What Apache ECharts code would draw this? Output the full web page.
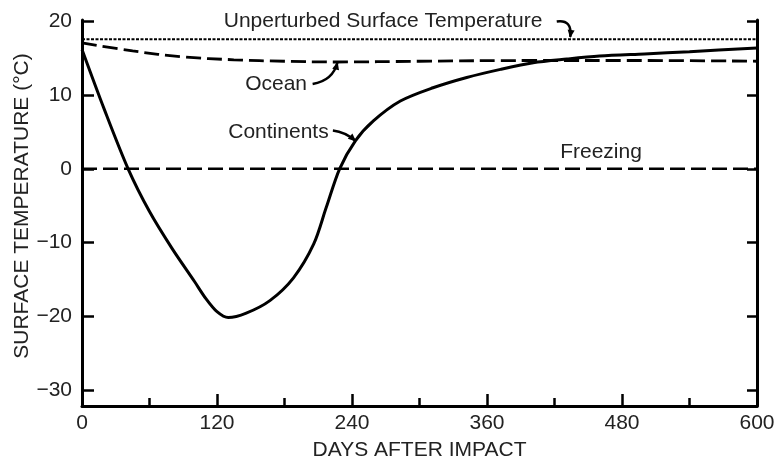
<!DOCTYPE html>
<html>
<head>
<meta charset="utf-8">
<script src="https://cdn.jsdelivr.net/npm/echarts@6/dist/echarts.min.js"></script>
<style>
html,body{margin:0;padding:0;background:#fff;}
#c{width:777px;height:460px;}
</style>
</head>
<body>
<div id="c"></div>
<script>
// ---- data ----
const continentDays  = [0, 20, 41, 60, 80, 100, 110, 120, 130, 146, 167, 188, 206, 217, 229, 243, 259, 283, 312, 342, 372, 401, 431, 460, 500, 540, 600];
const continentTemps = [16.2, 8.0, 0, -5.8, -10.8, -15.3, -17.6, -19.4, -20.2, -19.6, -17.9, -14.8, -10.2, -5.3, 0, 3.8, 6.5, 9.2, 11.0, 12.4, 13.5, 14.4, 14.9, 15.3, 15.6, 15.9, 16.4];
const oceanDays  = [0, 45, 90, 135, 180, 225, 300, 400, 500, 600];
const oceanTemps = [17.1, 16.0, 15.2, 14.8, 14.6, 14.5, 14.6, 14.7, 14.7, 14.6];
const unperturbedDays  = [0, 600];
const unperturbedTemps = [17.6, 17.6];
const freezingDays  = [0, 600];
const freezingTemps = [0, 0];
const xTicks = [0, 120, 240, 360, 480, 600];
const yTicks = [-30, -20, -10, 0, 10, 20];

const labelTexts = ['Unperturbed Surface Temperature', 'Ocean', 'Continents', 'Freezing'];
const labelAnchors = [[126, 20.1], [145, 11.5], [130, 5.0], [425, 2.2]];
// arrows: [start, control, end] in data coordinates
const arrowPaths = [
  [[422, 20.0], [436, 20.3], [434, 17.9]],
  [[205, 11.5], [223, 12.0], [227, 14.4]],
  [[223, 5.2], [234, 5.0], [243, 3.8]]
];

const zip = (xs, ys) => xs.map((x, i) => [x, ys[i]]);
const FONT = '"Liberation Sans", Arial, Helvetica, sans-serif';
const TXT = '#222';
const FS = 21;
const fmt = v => (v < 0 ? '\u2212' + Math.abs(v) : String(v));

const chart = echarts.init(document.getElementById('c'), null, {renderer: 'canvas'});
const option = {
  animation: false,
  backgroundColor: '#fff',
  grid: {left: 82, right: 20, top: 20, bottom: 54, containLabel: false, outerBoundsMode: 'none'},
  xAxis: {
    type: 'value', min: 0, max: 600, interval: 120,
    name: 'DAYS AFTER IMPACT', nameLocation: 'middle', nameGap: 34, nameMoveOverlap: false,
    nameTextStyle: {fontFamily: FONT, fontSize: FS, color: TXT},
    axisLine: {onZero: false, lineStyle: {color: '#000', width: 3}},
    axisTick: {inside: true, length: 12, lineStyle: {color: '#000', width: 2.5}},
    minorTick: {show: true, splitNumber: 2, length: 8, lineStyle: {color: '#000', width: 2.5}},
    axisLabel: {fontFamily: FONT, fontSize: FS, color: TXT, margin: 7, customValues: xTicks},
    splitLine: {show: false}, minorSplitLine: {show: false}
  },
  yAxis: [{
    type: 'value', min: -32.2, max: 20.2, position: 'left',
    name: 'SURFACE TEMPERATURE (\u00B0C)', nameLocation: 'middle', nameGap: 49, nameRotate: 90,
    nameMoveOverlap: false,
    nameTextStyle: {fontFamily: FONT, fontSize: FS, color: TXT, padding: [0, 0, 0, 14]},
    axisLine: {show: true, onZero: false, lineStyle: {color: '#000', width: 3}},
    axisTick: {show: true, inside: true, length: 12, lineStyle: {color: '#000', width: 2.5}, customValues: yTicks},
    axisLabel: {fontFamily: FONT, fontSize: FS, color: TXT, margin: 10, customValues: yTicks, formatter: fmt},
    splitLine: {show: false}
  }, {
    type: 'value', min: -32.2, max: 20.2, position: 'right',
    axisLine: {show: true, onZero: false, lineStyle: {color: '#000', width: 3}},
    axisTick: {show: true, inside: true, length: 10, lineStyle: {color: '#000', width: 2.5}, customValues: yTicks},
    axisLabel: {show: false},
    splitLine: {show: false}
  }],
  series: [
    {name: 'Unperturbed', type: 'line', data: zip(unperturbedDays, unperturbedTemps), showSymbol: false,
     lineStyle: {color: '#000', width: 2, type: [3, 1.5]}, silent: true},
    {name: 'Freezing', type: 'line', data: zip(freezingDays, freezingTemps), showSymbol: false,
     lineStyle: {color: '#000', width: 2.5, type: [15, 6]}, silent: true},
    {name: 'Ocean', type: 'line', data: zip(oceanDays, oceanTemps), showSymbol: false, smooth: 0.4,
     lineStyle: {color: '#000', width: 2.8, type: [15, 6]}, silent: true},
    {name: 'Continents', type: 'line', data: zip(continentDays, continentTemps), showSymbol: false, smooth: 0.3,
     lineStyle: {color: '#000', width: 3}, silent: true}
  ]
};
chart.setOption(option);

const px = p => chart.convertToPixel({xAxisIndex: 0, yAxisIndex: 0}, p);
const graphics = [];
labelTexts.forEach((t, i) => {
  const p = px(labelAnchors[i]);
  graphics.push({type: 'text', x: p[0], y: p[1], silent: true,
    style: {text: t, font: FS + 'px ' + FONT, fill: TXT, textAlign: 'left', textVerticalAlign: 'middle'}});
});
arrowPaths.forEach(path => {
  const s = px(path[0]), c = px(path[1]), e = px(path[2]);
  graphics.push({type: 'bezierCurve', silent: true,
    shape: {x1: s[0], y1: s[1], cpx1: c[0], cpy1: c[1], x2: e[0], y2: e[1]},
    style: {stroke: '#000', lineWidth: 2.5, fill: null}});
  const dx = e[0] - c[0], dy = e[1] - c[1];
  const L = Math.hypot(dx, dy) || 1;
  const ux = dx / L, uy = dy / L;
  const len = 7, half = 3.5;
  const bx = e[0] - ux * len, by = e[1] - uy * len;
  graphics.push({type: 'polygon', silent: true,
    shape: {points: [[e[0] + ux * 1, e[1] + uy * 1], [bx - uy * half, by + ux * half], [bx + uy * half, by - ux * half]]},
    style: {fill: '#000'}});
});
chart.setOption({graphic: graphics});
</script>
</body>
</html>
